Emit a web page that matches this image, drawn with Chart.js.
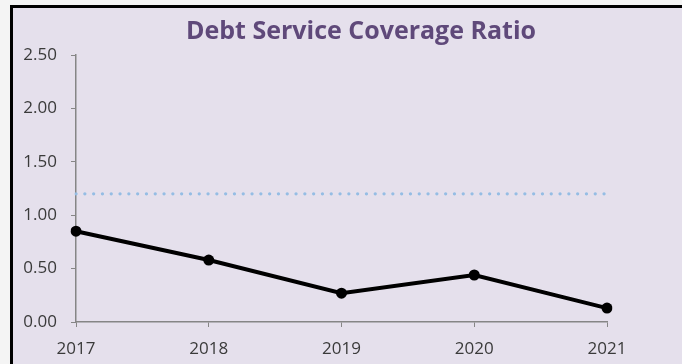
<!DOCTYPE html>
<html>
<head>
<meta charset="utf-8">
<script src="https://cdn.jsdelivr.net/npm/chart.js@4/dist/chart.umd.min.js"></script>
<style>
    html, body { margin: 0; padding: 0; background: #f4f4f4; overflow: hidden; }
    #wrap { position: absolute; left: 0; top: 0; width: 682px; height: 364px; }
</style>
</head>
<body>
<div id="wrap"><canvas id="dscr" width="682" height="364"></canvas></div>
<script>
// DSCR by year, plus the 1.20 covenant minimum
const years = ['2017', '2018', '2019', '2020', '2021'];
const dscrValues = [0.85, 0.58, 0.27, 0.44, 0.13];
const covenantMin = [1.20, 1.20, 1.20, 1.20, 1.20];
const yTicks = [0, 0.5, 1, 1.5, 2, 2.5];
const chartTitle = 'Debt Service Coverage Ratio';

const TEXT_GREY = '#3a3a3a';
const AXIS_GREY = '#868686';
const W = 682, H = 364;

// Lavender panel with a heavy black frame on the top and left edges,
// title drawn a little right of centre like the spreadsheet original
const panelBackground = {
    id: 'panelBackground',
    beforeDraw(chart) {
        const ctx = chart.ctx;
        ctx.save();
        ctx.fillStyle = '#000';
        ctx.fillRect(10, 5, W - 10, H - 5);
        ctx.fillStyle = '#e5e0ec';
        ctx.fillRect(13, 8, W - 13, H - 8);
        ctx.restore();
    },
    afterDraw(chart) {
        const ctx = chart.ctx;
        ctx.save();
        ctx.font = "bold 25px 'Open Sans', sans-serif";
        ctx.fillStyle = '#5f497a';
        ctx.textAlign = 'center';
        ctx.textBaseline = 'alphabetic';
        ctx.fillText(chartTitle, 361, 39);
        ctx.restore();
    }
};

new Chart(document.getElementById('dscr'), {
    type: 'line',
    data: {
        labels: years,
        datasets: [
            {
                label: 'DSCR',
                data: dscrValues,
                borderColor: '#000',
                backgroundColor: '#000',
                borderWidth: 4,
                pointRadius: 5.5,
                pointHoverRadius: 5.5,
                pointBackgroundColor: '#000',
                pointBorderWidth: 0,
                tension: 0,
                order: 1
            },
            {
                label: 'Minimum',
                data: covenantMin,
                borderColor: '#95bde4',
                borderWidth: 3.2,
                borderDash: [0.1, 8.7],
                borderCapStyle: 'round',
                pointRadius: 0,
                tension: 0,
                order: 2
            }
        ]
    },
    options: {
        responsive: false,
        animation: false,
        layout: { padding: { top: 55, right: 75, left: 0, bottom: 0 } },
        plugins: {
            legend: { display: false },
            tooltip: { enabled: false },
            title: { display: false }
        },
        scales: {
            x: {
                offset: false,
                grid: { drawOnChartArea: false, color: AXIS_GREY, tickLength: 5 },
                border: { color: AXIS_GREY, width: 1.5 },
                ticks: {
                    color: TEXT_GREY,
                    padding: 12,
                    maxRotation: 0,
                    font: { family: "'Open Sans', sans-serif", size: 17 }
                },
                afterFit(scale) { scale.height = 42; }
            },
            y: {
                min: 0,
                max: 2.5,
                afterBuildTicks(scale) {
                    scale.ticks = yTicks.map(v => ({ value: v }));
                },
                grid: { drawOnChartArea: false, color: AXIS_GREY, tickLength: 5 },
                border: { color: AXIS_GREY, width: 1.5 },
                ticks: {
                    color: TEXT_GREY,
                    padding: 14,
                    font: { family: "'Open Sans', sans-serif", size: 17 },
                    callback: v => Number(v).toFixed(2)
                },
                afterFit(scale) { scale.width = 76; }
            }
        }
    },
    plugins: [panelBackground]
});
</script>
</body>
</html>
